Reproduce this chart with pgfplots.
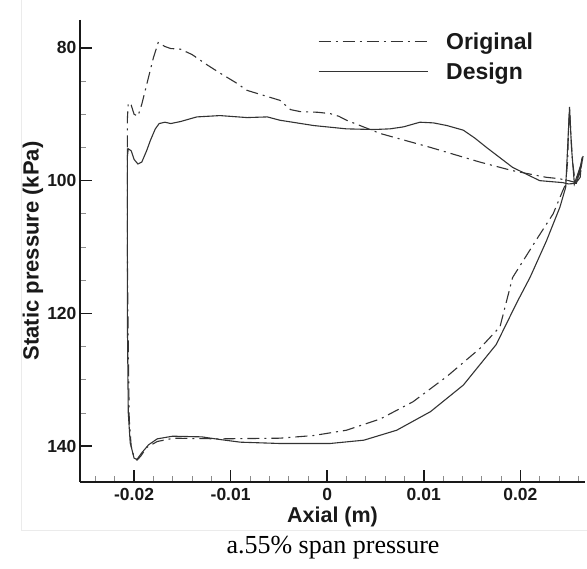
\documentclass[border=0pt]{standalone}
\usepackage{fontspec}
\setmainfont{Liberation Serif}
\setsansfont{Liberation Sans}
\usepackage{pgfplots}
\pgfplotsset{compat=1.18}

% Original (dash-dot) blade loading, suction side then pressure side
\pgfplotstableread{
x y
-0.0207 95.0
-0.0207 90.9
-0.0206 88.3
-0.0203 88.6
-0.0200 90.0
-0.0196 90.3
-0.0192 88.5
-0.0186 85.0
-0.0180 81.5
-0.0175 79.2
-0.0168 79.8
-0.0162 80.1
-0.0152 80.2
-0.0140 81.0
-0.0125 82.5
-0.0111 83.8
-0.0095 85.2
-0.0083 86.4
-0.0065 87.2
-0.0049 87.9
-0.0038 89.3
-0.0028 89.6
-0.0010 89.7
0.0003 89.9
0.0012 90.3
0.0020 90.9
0.0055 92.9
0.0107 95.0
0.0158 97.2
0.0192 98.5
0.0227 99.5
0.0240 99.7
0.0250 100.0
0.0258 100.3
0.0261 99.0
0.0264 96.5
0.0262 99.5
0.0257 100.5
0.0254 97.0
0.0252 92.0
0.0251 89.2
0.0250 92.0
0.0249 97.0
0.0247 100.5
0.0244 101.5
0.0234 105.0
0.0218 108.6
0.0192 114.6
0.0179 122.0
0.0158 125.3
0.0124 129.5
0.0089 133.3
0.0055 135.9
0.0020 137.6
-0.0014 138.4
-0.0049 138.8
-0.0111 138.9
-0.0159 138.8
-0.0176 139.3
-0.0187 140.2
-0.0193 141.5
-0.0197 142.1
-0.0200 141.7
-0.0203 140.0
-0.0205 136.0
-0.0206 125.0
-0.0207 110.0
-0.0207 95.0
}\original

% Design (solid)
\pgfplotstableread{
x y
-0.0207 110.0
-0.0207 96.5
-0.0206 95.2
-0.0203 95.5
-0.0200 96.8
-0.0196 97.5
-0.0192 97.2
-0.0187 95.5
-0.0183 93.9
-0.0178 92.2
-0.0174 91.4
-0.0168 91.2
-0.0162 91.4
-0.0152 91.1
-0.0135 90.4
-0.0111 90.2
-0.0083 90.5
-0.0062 90.4
-0.0049 90.9
-0.0014 91.7
0.0020 92.2
0.0048 92.3
0.0065 92.2
0.0079 91.9
0.0096 91.2
0.0110 91.3
0.0124 91.7
0.0141 92.4
0.0153 93.6
0.0165 95.0
0.0192 98.0
0.0220 100.0
0.0244 100.3
0.0250 100.5
0.0258 100.4
0.0263 98.0
0.0265 96.3
0.0263 97.5
0.0256 100.5
0.0253 95.0
0.0251 88.9
0.0249 95.0
0.0247 101.0
0.0241 104.0
0.0227 109.1
0.0210 114.6
0.0197 118.2
0.0175 124.7
0.0141 130.8
0.0107 134.8
0.0072 137.6
0.0038 139.1
0.0003 139.6
-0.0049 139.6
-0.0090 139.4
-0.0111 139.0
-0.0130 138.6
-0.0160 138.5
-0.0176 138.9
-0.0185 139.8
-0.0192 141.0
-0.0197 142.0
-0.0200 141.8
-0.0204 139.5
-0.0206 135.0
-0.0207 120.0
-0.0207 110.0
}\design

\begin{document}
\begin{tikzpicture}
\useasboundingbox (0pt,0pt) rectangle (587pt,569pt);
\draw[black!8] (21pt,569pt) -- (21pt,39pt) -- (587pt,39pt);

\begin{axis}[
    at={(332.5pt,318pt)}, anchor=center,
    scale only axis,
    width=505pt, height=462pt,
    xmin=-0.0256, xmax=0.0267,
    ymin=75.8, ymax=145.4,
    y dir=reverse,
    axis x line*=bottom,
    axis y line*=left,
    axis line style={line width=1.8pt, black!90},
    tick align=inside,
    major tick length=12pt,
    minor tick length=6pt,
    every major tick/.append style={line width=1.6pt, black!90},
    every minor tick/.append style={line width=0.7pt, black!45},
    xtick={-0.02,-0.01,0,0.01,0.02},
    xticklabels={-0.02,-0.01,0,0.01,0.02},
    minor xtick={-0.024,-0.022,-0.018,-0.016,-0.014,-0.012,-0.008,-0.006,-0.004,-0.002,0.002,0.004,0.006,0.008,0.012,0.014,0.016,0.018,0.022,0.024,0.026},
    ytick={80,100,120,140},
    minor ytick={85,90,95,105,110,115,125,130,135},
    /pgf/number format/assume math mode=true,
    scaled x ticks=false,
    ticklabel style={font=\sffamily\bfseries\fontsize{17.5}{20}\selectfont, black!90},
    xticklabel style={inner sep=1pt, yshift=-5pt},
    xlabel={Axial (m)},
    ylabel={Static pressure (kPa)},
    xlabel style={at={(axis description cs:0.5,-0.076)}, anchor=center, inner sep=1pt,
        font=\sffamily\bfseries\fontsize{21.5}{24}\selectfont, black!90},
    ylabel style={at={(axis description cs:-0.093,0.5)}, anchor=center,
        font=\sffamily\bfseries\fontsize{22}{24}\selectfont, black!90},
    legend style={at={(0.471,0.978)}, anchor=north west, draw=none, fill=none,
        inner sep=0pt, row sep=8pt,
        nodes={inner sep=2pt},
        font=\sffamily\bfseries\fontsize{23}{25}\selectfont, text=black!90},
    legend cell align=left,
    legend image code/.code={\draw[#1] (0pt,0pt) -- (109pt,0pt);},
]
\addplot[black!80, line width=1.1pt, dash pattern=on 12pt off 5pt on 2pt off 5pt]
    table[x=x, y=y] {\original};
\addlegendentry{\hspace{16pt}Original}
\addplot[black!80, line width=1.1pt]
    table[x=x, y=y] {\design};
\addlegendentry{\hspace{16pt}Design}
\end{axis}

\node[font=\fontsize{26}{28}\selectfont] at (333pt,21pt) {a.55\% span pressure};
\end{tikzpicture}
\end{document}
